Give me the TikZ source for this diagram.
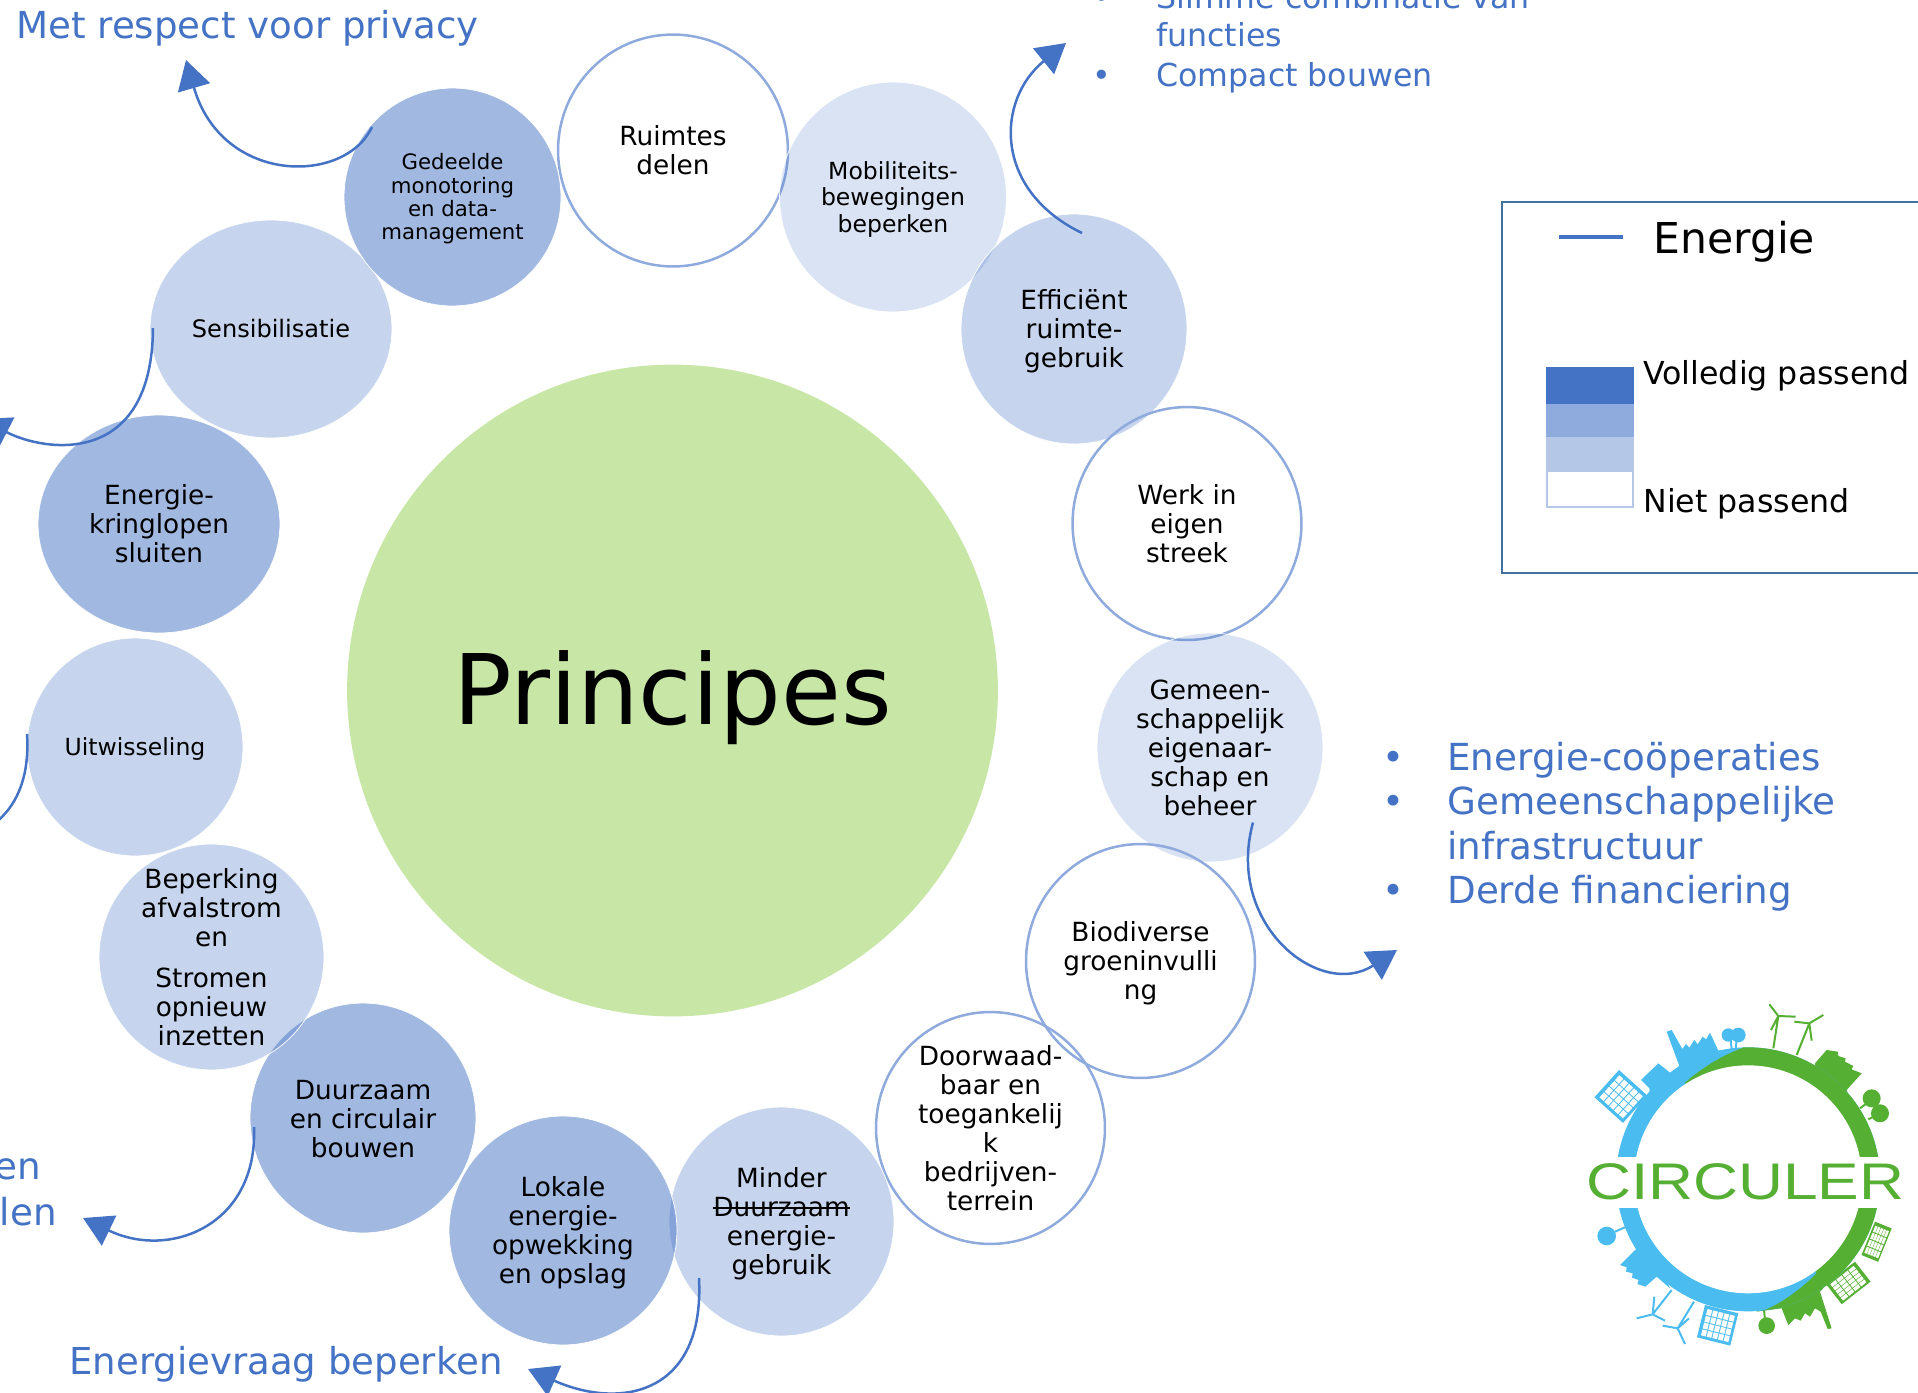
\documentclass[tikz,border=0pt]{standalone}
\usepackage{fontspec}
\setmainfont{DejaVu Sans}
\newfontfamily\logofont{Liberation Sans}
\usetikzlibrary{shapes.geometric, arrows.meta, calc}

\newsavebox\strikebox
\newcommand{\strikeword}[1]{\sbox\strikebox{#1}\rlap{#1}\rule[.3em]{\wd\strikebox}{.07em}}
\newcommand{\dropline}[1]{\rule{0pt}{#1}}

\definecolor{energyblue}{HTML}{4472C4}
\definecolor{ringblue}{HTML}{8FAADC}
\definecolor{softblue}{HTML}{B4C7E7}
\definecolor{framegrey}{HTML}{41719C}
\definecolor{principegreen}{HTML}{C8E6A5}
\definecolor{logoblue}{HTML}{4ABCEF}
\definecolor{logogreen}{HTML}{55AF33}

\begin{document}
\begin{tikzpicture}[x=0.02cm, y=-0.02cm]
\tikzset{
    radii/.style 2 args={minimum width={#1*0.04cm}, minimum height={#2*0.04cm}},
    bubble/.style={ellipse, inner sep=-60pt, align=center, font=\fontsize{15}{16.5}\selectfont},
    midcircle/.style={bubble, fill=energyblue, fill opacity=.5, text opacity=1, draw=white, draw opacity=1},
    softcircle/.style={bubble, fill=energyblue, fill opacity=.3, text opacity=1, draw=white, draw opacity=1},
    palecircle/.style={bubble, fill=energyblue, fill opacity=.2, text opacity=1, draw=white, draw opacity=1},
    whitecircle/.style={bubble, draw=ringblue, line width=0.05cm},
    energyarrow/.style={-{Triangle[length=0.58cm, width=0.66cm]}, draw=energyblue, line width=0.05cm},
    infotext/.style={anchor=base west, inner sep=0pt, text=energyblue, font=\fontsize{21.2}{25}\selectfont},
    smallinfo/.style={anchor=base west, inner sep=0pt, text=energyblue, font=\fontsize{18}{22}\selectfont},
    legendtext/.style={anchor=base west, inner sep=0pt, font=\fontsize{18}{22}\selectfont},
    turbine/.style={line width=0.04cm},
    panel/.pic={
        \path[pic actions] (0,0) rectangle (100,100);
        \foreach \i in {0,...,4} \foreach \j in {0,...,3}
            \fill[white] ({10+\i*17},{10+\j*21}) rectangle +(14,18);
    }
}
\useasboundingbox (0,0) rectangle (1918,1393);

% --- Centre ---
\node (principes) at (672.5,690.5) [ellipse, fill=principegreen, inner sep=-150pt, radii={325.5}{326}, font=\fontsize{55.4}{60}\selectfont] {\dropline{50pt}Principes};

% --- Ring of principles ---
\node (ruimtes) at (673,150.5) [whitecircle, radii={115}{116}] {Ruimtes\\delen};
\node (mobiliteit) at (893,197) [palecircle, radii={113.5}{115}, font=\fontsize{13.4}{15.1}\selectfont] {\dropline{13pt}Mobiliteits-\\bewegingen\\beperken};
\node (efficient) at (1074,329) [softcircle, radii={113}{115}] {\dropline{14pt}Efficiënt\\ruimte-\\gebruik};
\node (werk) at (1187,523.5) [whitecircle, radii={114.5}{116.5}] {Werk in\\eigen\\streek};
\node (gemeen) at (1210,747.5) [palecircle, radii={113}{114.5}] {Gemeen-\\schappelijk\\eigenaar-\\schap en\\beheer};
\node (biodivers) at (1140.5,961) [whitecircle, radii={114.5}{117}] {\dropline{14pt}Biodiverse\\groeninvulli\\ng};
\node (doorwaad) at (990.5,1128) [whitecircle, radii={114.5}{116}] {Doorwaad-\\baar en\\toegankelij\\k\\bedrijven-\\terrein};
\node (minder) at (781.5,1221.5) [softcircle, radii={112.5}{114.5}] {\dropline{14pt}Minder\\\strikeword{Duurzaam}\\energie-\\gebruik};
\node (lokale) at (563,1230.5) [midcircle, radii={114}{114.5}] {\dropline{14pt}Lokale\\energie-\\opwekking\\en opslag};
\node (duurzaam) at (363,1118) [midcircle, radii={113}{115}] {\dropline{12pt}Duurzaam\\en circulair\\bouwen};
\node (beperking) at (211.5,957) [softcircle, radii={112.5}{113}] {Beperking\\afvalstrom\\en\\[6.5pt]Stromen\\opnieuw\\inzetten};
\node (uitwisseling) at (135,747) [softcircle, radii={108}{109}, font=\fontsize{13.4}{15}\selectfont] {\dropline{13pt}Uitwisseling};
\node (kringloop) at (159,524) [midcircle, radii={121}{109}] {Energie-\\kringlopen\\sluiten};
\node (sensibil) at (271,329) [softcircle, radii={121}{109}, font=\fontsize{13.7}{16}\selectfont] {Sensibilisatie};
\node (gedeeld) at (452.5,197) [midcircle, radii={108.5}{109}, font=\fontsize{12.1}{13.3}\selectfont] {\dropline{11.4pt}Gedeelde\\monotoring\\en data-\\management};

% --- Arrow ends ---
\coordinate (privacyTip) at (186,60);
\coordinate (compactTip) at (1066,43);
\coordinate (financeTip) at (1397,950);
\coordinate (vraagTip) at (528,1369);
\coordinate (bouwTip) at (83,1218);
\coordinate (uitwisTip) at (-45,845);
\coordinate (sensTip) at (-19,419);

% --- Arrows ---
\draw[energyarrow] ([shift={(-80.5,-70)}]gedeeld.center) .. controls (345,185) and (222,185) .. (privacyTip);
\draw[energyarrow] ([shift={(8,-96)}]efficient.center) .. controls (993,190) and (996,100) .. (compactTip);
\draw[energyarrow] ([shift={(43,75)}]gemeen.center) .. controls (1225,925) and (1320,1000) .. (financeTip);
\draw[energyarrow] ([shift={(-82.5,56.5)}]minder.center) .. controls (705,1395) and (620,1410) .. (vraagTip);
\draw[energyarrow] ([shift={(-109,9)}]duurzaam.center) .. controls (258,1225) and (170,1260) .. (bouwTip);
\draw[energyarrow] ([shift={(-108,-13)}]uitwisseling.center) .. controls (30,780) and (15,815) .. (uitwisTip);
\draw[energyarrow] ([shift={(-118,-1)}]sensibil.center) .. controls (152,468) and (45,452) .. (sensTip);

% --- Blue texts ---
\node (privacy) at (16,38) [infotext, font=\fontsize{21.15}{25}\selectfont] {Met respect voor privacy};
\node (vraag) at (69,1374) [infotext, font=\fontsize{21.1}{25}\selectfont] {Energievraag beperken};
\node (cutA) at (41,1179) [infotext, anchor=base east] {en};
\node (cutB) at (57,1225) [infotext, anchor=base east] {len};

\node (dotA) at (1092,8) [smallinfo] {•};
\node (slim) at (1156,8) [smallinfo] {Slimme combinatie van};
\node (functies) at (1156,46) [smallinfo] {functies};
\node (dotB) at (1092,86) [smallinfo] {•};
\node (compact) at (1156,86) [smallinfo] {Compact bouwen};

\node (dotC) at (1382,770) [infotext] {•};
\node (coop) at (1447,770) [infotext] {Energie-coöperaties};
\node (dotD) at (1382,814) [infotext] {•};
\node (infraA) at (1447,814) [infotext] {Gemeenschappelijke};
\node (infraB) at (1447,859) [infotext] {infrastructuur};
\node (dotE) at (1382,903) [infotext] {•};
\node (derde) at (1447,903) [infotext] {Derde financiering};

% --- Legend ---
\draw[framegrey, line width=0.05cm] (1502,202) rectangle (1960,573);
\coordinate (legendA) at (1559,237);
\coordinate (legendB) at (1623,237);
\draw[energyblue, line width=0.07cm] (legendA) -- (legendB);
\node (energie) at (1653,253) [legendtext, font=\fontsize{24.2}{26}\selectfont] {Energie};
\fill[energyblue] (1546,367) rectangle (1634,404);
\fill[ringblue] (1546,404) rectangle (1634,437);
\fill[softblue] (1546,437) rectangle (1634,471);
\draw[softblue, line width=0.04cm] (1547,471) rectangle (1633,507);
\node (volledig) at (1643,384) [legendtext] {Volledig passend};
\node (niet) at (1643,512) [legendtext] {Niet passend};

% --- Logo ---
\begin{scope}[shift={(1560,980)}, x=0.006667cm, y=-0.006667cm]
    % blue half
    \fill[logoblue] (243,300) -- (295,250) -- (330,278) -- (358,258) -- (320,155) -- (335,150) -- (367,207) -- (378,192) -- (388,203) -- (403,180) -- (413,193) -- (428,170) -- (438,178) -- (450,158) -- (475,212) -- (540,205) -- (400,290) -- (270,340) -- (268,325) -- cycle;
    \fill[logoblue] (225,810) -- (180,855) -- (200,862) -- (198,875) -- (218,880) -- (216,893) -- (236,900) -- (232,912) -- (256,920) -- (290,890) -- (330,925) -- (300,860) -- (240,800) -- cycle;
    \pic[fill=logoblue, rotate=-42, xscale=1.15, yscale=1.1] at (177,270) {panel};
    \pic[fill=logoblue, rotate=-14, xscale=1.03, yscale=1] at (435,975) {panel};
    \fill[logoblue] (505,165) circle[radius=20] (535,165) circle[radius=22] (140,768) circle[radius=28];
    \draw[logoblue, turbine] (512,180) -- (515,207) (530,180) -- (527,207) (165,755) -- (195,742);
    \draw[logoblue, turbine] (335,930) -- (278,1003) -- (230,1015) (278,1003) -- (315,1022) (278,1003) -- (283,950);
    \draw[logoblue, turbine] (402,965) -- (353,1045) -- (308,1037) (353,1045) -- (375,1092) (353,1045) -- (387,1015);
    % green half
    \fill[logogreen] (765,250) -- (800,210) -- (833,215) -- (835,228) -- (857,235) -- (855,245) -- (880,258) -- (875,268) -- (905,280) -- (860,330) -- (880,400) -- (760,300) -- cycle;
    \fill[logogreen] (590,995) -- (665,985) -- (685,1035) -- (705,1015) -- (722,1022) -- (735,1000) -- (750,1010) -- (765,985) -- (782,995) -- (803,1047) -- (815,1045) -- (780,935) -- (790,925) -- (770,880) -- cycle;
    \pic[fill=logogreen, rotate=-22, xscale=.54, yscale=1.08] at (945,725) {panel};
    \pic[fill=logogreen, rotate=-52, xscale=.76, yscale=1.1] at (885,845) {panel};
    \fill[logogreen] (935,355) circle[radius=27] (960,400) circle[radius=27] (620,1037) circle[radius=25];
    \draw[logogreen, turbine] (900,385) -- (920,370) (925,418) -- (945,408) (612,990) -- (615,1020);
    \draw[logogreen, turbine] (640,205) -- (655,108) -- (628,73) (655,108) -- (707,110) (655,108) -- (633,150);
    \draw[logogreen, turbine] (710,225) -- (748,130) -- (703,125) (748,130) -- (790,105) (748,130) -- (755,182);
    % ring
    \fill[logoblue] (564,598) circle[radius=396];
    \begin{scope}
        \clip (564,598) circle[radius=396];
        \fill[logogreen] (590,190) .. controls (500,215) and (430,260) .. (375,308) -- (564,598) -- (770,880) .. controls (720,930) and (660,975) .. (590,1000) -- (1050,1000) -- (1050,190) -- cycle;
    \end{scope}
    \fill[white] (564,598) circle[radius=342];
    \fill[white] (100,530) rectangle (1030,685);
    \node (circuler) at (556,605) [text=logogreen, inner sep=0pt, font=\logofont\fontsize{29.3}{32}\selectfont] {\scalebox{1.21}[1]{CIRCULER}};
\end{scope}

\end{tikzpicture}
\end{document}
